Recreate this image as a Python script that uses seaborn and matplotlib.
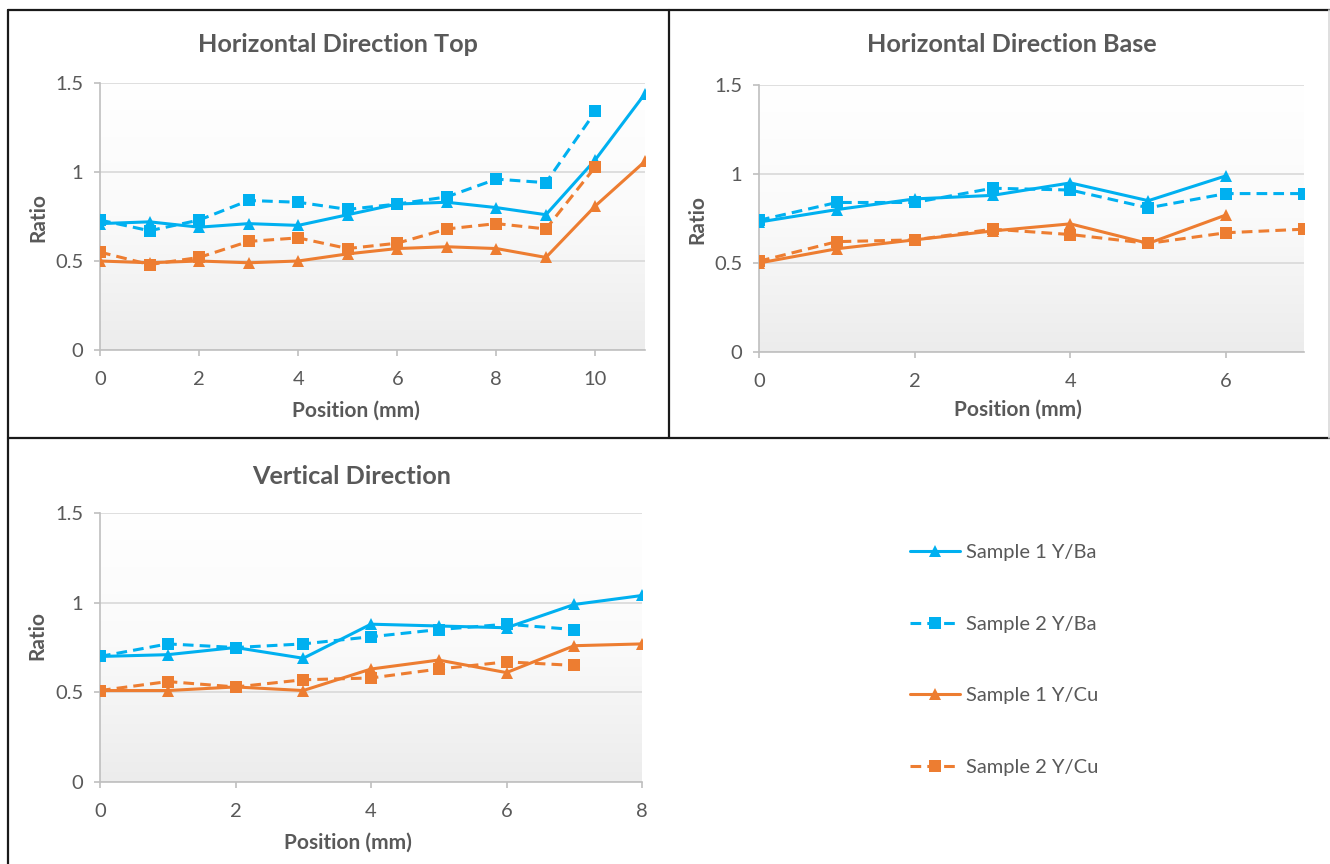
import numpy as np
import pandas as pd
import matplotlib
matplotlib.use("Agg")
import matplotlib.pyplot as plt
from matplotlib.lines import Line2D
import seaborn as sns

sns.set_theme(style="white")
plt.rcParams["font.family"] = ["Lato", "DejaVu Sans"]

# ---- data: Horizontal Direction Top ----
top_pos = [0, 1, 2, 3, 4, 5, 6, 7, 8, 9, 10, 11]
top_s1_yba = [0.71, 0.72, 0.69, 0.71, 0.70, 0.76, 0.82, 0.83, 0.80, 0.76, 1.07, 1.44]
top_s2_yba = [0.73, 0.67, 0.73, 0.84, 0.83, 0.79, 0.82, 0.86, 0.96, 0.94, 1.34]
top_s1_ycu = [0.50, 0.49, 0.50, 0.49, 0.50, 0.54, 0.57, 0.58, 0.57, 0.52, 0.81, 1.06]
top_s2_ycu = [0.55, 0.48, 0.52, 0.61, 0.63, 0.57, 0.60, 0.68, 0.71, 0.68, 1.03]

# ---- data: Horizontal Direction Base ----
base_pos = [0, 1, 2, 3, 4, 5, 6, 7]
base_s1_yba = [0.73, 0.80, 0.86, 0.88, 0.95, 0.85, 0.99]
base_s2_yba = [0.74, 0.84, 0.84, 0.92, 0.91, 0.81, 0.89, 0.89]
base_s1_ycu = [0.50, 0.58, 0.63, 0.68, 0.72, 0.61, 0.77]
base_s2_ycu = [0.51, 0.62, 0.63, 0.69, 0.66, 0.61, 0.67, 0.69]

# ---- data: Vertical Direction ----
vert_pos = [0, 1, 2, 3, 4, 5, 6, 7, 8]
vert_s1_yba = [0.70, 0.71, 0.75, 0.69, 0.88, 0.87, 0.86, 0.99, 1.04]
vert_s2_yba = [0.70, 0.77, 0.75, 0.77, 0.81, 0.85, 0.88, 0.85]
vert_s1_ycu = [0.51, 0.51, 0.53, 0.51, 0.63, 0.68, 0.61, 0.76, 0.77]
vert_s2_ycu = [0.51, 0.56, 0.53, 0.57, 0.58, 0.63, 0.67, 0.65]

series_labels = ["Sample 1 Y/Ba", "Sample 2 Y/Ba", "Sample 1 Y/Cu", "Sample 2 Y/Cu"]
y_ticks = [0, 0.5, 1, 1.5]
y_tick_labels = ["0", "0.5", "1", "1.5"]

BLUE = "#00B0F0"
ORANGE = "#ED7D31"
TEXT = "#595959"
GRID = "#D9D9D9"
AXIS = "#BFBFBF"

styles = [
    dict(color=BLUE, marker="^", linestyle="-", markersize=8.5),
    dict(color=BLUE, marker="s", linestyle=(0, (3.5, 2)), markersize=8),
    dict(color=ORANGE, marker="^", linestyle="-", markersize=8.5),
    dict(color=ORANGE, marker="s", linestyle=(0, (3.5, 2)), markersize=8),
]

W, H = 1330, 864
fig = plt.figure(figsize=(W / 100, H / 100), dpi=100)
fig.patch.set_facecolor("white")


def fx(px):
    return px / W


def fy(py):
    return 1 - py / H


def make_axes(left, top, right, bottom):
    return fig.add_axes([fx(left), fy(bottom), fx(right - left), (bottom - top) / H])


gradient = np.linspace(0, 1, 256).reshape(-1, 1)
grad_cmap = matplotlib.colors.LinearSegmentedColormap.from_list(
    "plotarea", ["#ffffff", "#fafafa", "#ececec"])


def draw_panel(ax, pos, series, xmax):
    ax.imshow(gradient, extent=[0, 1, 0, 1], transform=ax.transAxes,
              cmap=grad_cmap, aspect="auto", zorder=0, origin="upper")
    for vals, label, st in zip(series, series_labels, styles):
        df = pd.DataFrame({"pos": pos[:len(vals)], "ratio": vals})
        sns.lineplot(data=df, x="pos", y="ratio", ax=ax, label=label,
                     linewidth=2.2, markeredgewidth=0, legend=False,
                     zorder=3, **st)
    ax.set_xlim(0, xmax)
    ax.set_ylim(0, 1.5)
    ax.set_xticks(list(range(0, xmax + 1, 2)))
    ax.set_yticks(y_ticks)
    ax.set_yticklabels(y_tick_labels)
    ax.set_xlabel("")
    ax.set_ylabel("")
    ax.grid(axis="y", color=GRID, linewidth=1.2, zorder=1)
    ax.set_axisbelow(True)
    for side in ["top", "right"]:
        ax.spines[side].set_visible(False)
    for side in ["left", "bottom"]:
        ax.spines[side].set_color(AXIS)
        ax.spines[side].set_linewidth(1.2)
    ax.tick_params(axis="both", direction="out", length=4, width=1.2,
                   color=AXIS, labelcolor=TEXT, labelsize=14.5, bottom=True, left=True)
    ax.tick_params(axis="x", pad=11)
    ax.tick_params(axis="y", pad=8)


ax1 = make_axes(100, 83, 645, 350)
draw_panel(ax1, top_pos, [top_s1_yba, top_s2_yba, top_s1_ycu, top_s2_ycu], 11)

ax2 = make_axes(759, 85, 1304, 352)
draw_panel(ax2, base_pos, [base_s1_yba, base_s2_yba, base_s1_ycu, base_s2_ycu], 7)

ax3 = make_axes(100, 513, 642, 782)
draw_panel(ax3, vert_pos, [vert_s1_yba, vert_s2_yba, vert_s1_ycu, vert_s2_ycu], 8)

# titles and axis labels
title_kw = dict(color=TEXT, fontsize=18.2, fontweight="bold", ha="center", va="center")
label_kw = dict(color=TEXT, fontsize=15, fontweight="bold", ha="center", va="center")

fig.text(fx(338), fy(44), "Horizontal Direction Top", **title_kw)
fig.text(fx(1012), fy(44), "Horizontal Direction Base", **title_kw)
fig.text(fx(352), fy(476), "Vertical Direction", **title_kw)

fig.text(fx(356), fy(411), "Position (mm)", **label_kw)
fig.text(fx(1018), fy(410), "Position (mm)", **label_kw)
fig.text(fx(348), fy(843), "Position (mm)", **label_kw)

fig.text(fx(38), fy(217), "Ratio", rotation=90, **label_kw)
fig.text(fx(697), fy(220), "Ratio", rotation=90, **label_kw)
fig.text(fx(37), fy(636), "Ratio", rotation=90, **label_kw)

# legend in the empty lower-right cell
handles = [Line2D([0], [0], linewidth=2.2, markeredgewidth=0, **st) for st in styles]
fig.legend(handles, series_labels, loc="upper left",
           bbox_to_anchor=(fx(892), fy(526)), frameon=False,
           fontsize=14.5, labelcolor=TEXT, handlelength=2.5, handletextpad=0.25,
           labelspacing=2.7, markerscale=1.0)

# cell borders
border_kw = dict(color="#1a1a1a", linewidth=1.6, transform=fig.transFigure)
fig.add_artist(Line2D([fx(8), fx(1330)], [fy(10), fy(10)], **border_kw))
fig.add_artist(Line2D([fx(8), fx(8)], [fy(10), fy(864)], **border_kw))
fig.add_artist(Line2D([fx(669), fx(669)], [fy(10), fy(438)], **border_kw))
fig.add_artist(Line2D([fx(8), fx(1330)], [fy(438), fy(438)], **border_kw))
fig.add_artist(Line2D([fx(1328.5), fx(1328.5)], [fy(10), fy(438)],
                      color="#d9d9d9", linewidth=1.2, transform=fig.transFigure))

fig.savefig("out.png", dpi=100, facecolor="white")
